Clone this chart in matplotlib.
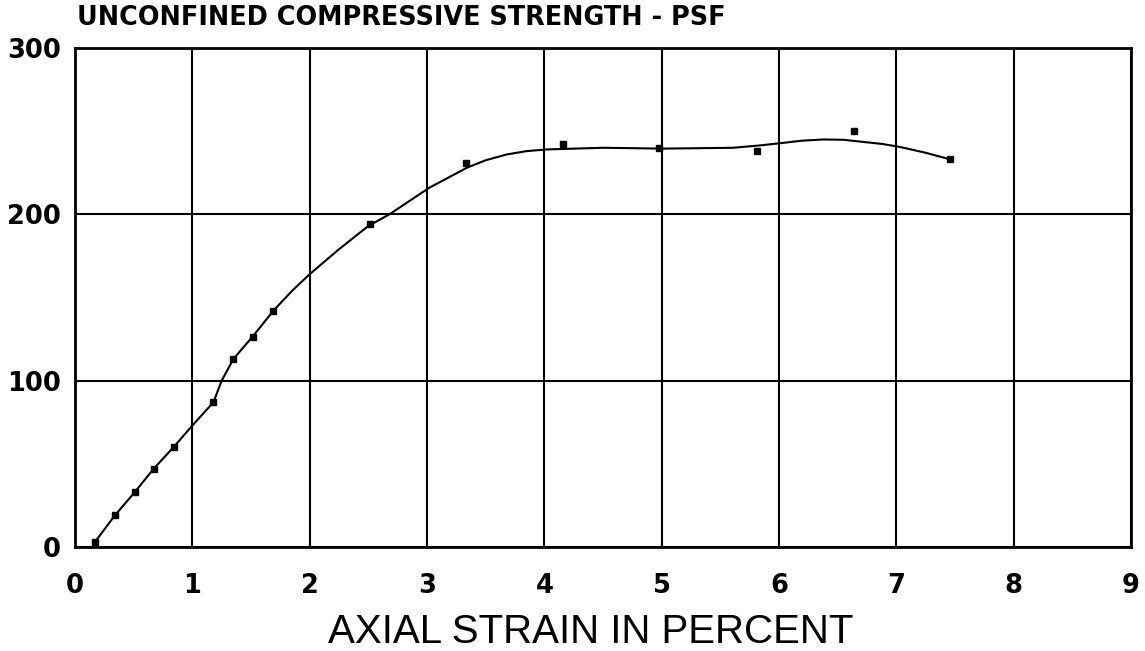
"""Unconfined compression test: stress vs axial strain."""

import matplotlib

matplotlib.use("Agg")
import matplotlib.pyplot as plt

# measured points (axial strain %, strength psf)
strain_pts = [0.17, 0.34, 0.51, 0.67, 0.84, 1.18, 1.35, 1.52, 1.69,
              2.51, 3.33, 4.16, 4.98, 5.81, 6.64, 7.46]
stress_pts = [3, 19, 33, 47, 60, 87, 113, 126, 142,
              194, 231, 242, 240, 238, 250, 233]

# hand-drawn fitted curve
curve_x = [0.17, 0.34, 0.51, 0.67, 0.84, 1.0, 1.18, 1.25, 1.35, 1.52, 1.69,
           1.85, 2.0, 2.25, 2.5, 2.68, 2.85, 3.02, 3.18, 3.34, 3.5, 3.68,
           3.85, 4.02, 4.5, 5.01, 5.61, 5.85, 6.04, 6.2, 6.38, 6.55, 6.72,
           6.88, 7.03, 7.25, 7.46]
curve_y = [3, 19, 33, 47, 60, 73, 87, 100, 113, 127, 142,
           154, 164, 179, 193, 200, 208, 216, 222, 228, 232.5, 236,
           238, 239, 240, 239.5, 240, 241.5, 243, 244.3, 245, 244.8, 243.5,
           242.3, 240.5, 237, 233]

x_ticks = list(range(0, 10))
y_ticks = [0, 100, 200, 300]

plt.rcParams["font.family"] = ["Liberation Sans", "DejaVu Sans"]

fig = plt.figure(figsize=(11.45, 6.51), dpi=100)
ax = fig.add_axes([0.0655, 0.1598, 0.9223, 0.7665])

ax.plot(curve_x, curve_y, color="black", lw=1.5, zorder=3)
ax.plot(strain_pts, stress_pts, ls="none", marker="s", ms=4,
        color="black", zorder=4)

ax.set_xlim(0, 9)
ax.set_ylim(0, 300)
ax.set_xticks(x_ticks)
ax.set_yticks(y_ticks)
ax.grid(True, color="black", lw=1.5)
for s in ax.spines.values():
    s.set_linewidth(2)
ax.tick_params(length=0)
ax.tick_params(axis="x", pad=19)
ax.tick_params(axis="y", pad=10)
for lbl in ax.get_xticklabels() + ax.get_yticklabels():
    lbl.set_fontfamily("DejaVu Sans")
    lbl.set_fontweight("bold")
    lbl.set_fontsize(18.5)

fig.text(0.067, 0.972, "UNCONFINED COMPRESSIVE STRENGTH - PSF",
         fontsize=18.4, fontweight="bold", family="DejaVu Sans",
         va="center", ha="left")
fig.text(0.516, 0.029, "AXIAL STRAIN IN PERCENT", fontsize=29,
         va="center", ha="center")

fig.savefig("out.png", dpi=100)
